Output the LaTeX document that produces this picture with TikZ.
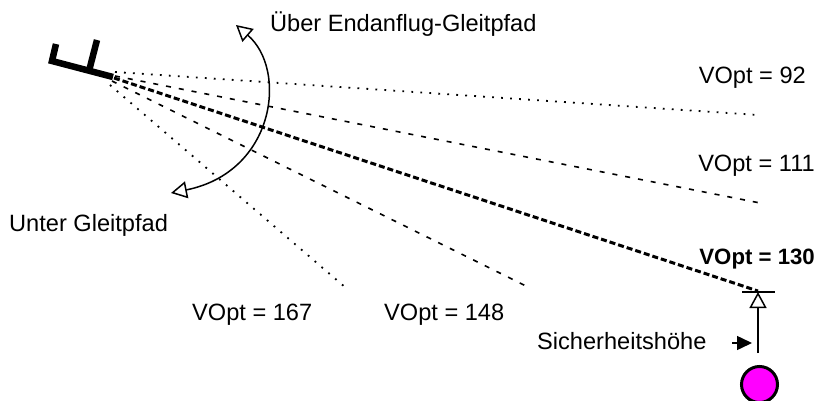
\documentclass[tikz,border=0pt]{standalone}
\usepackage{fontspec}
\setmainfont{Liberation Sans}
\usetikzlibrary{arrows.meta}
\definecolor{pinkdot}{RGB}{255,0,255}
\begin{document}
\begin{tikzpicture}[x=1pt,y=-1pt,
  lbl/.style={anchor=base west,inner sep=0pt,font=\fontsize{23.6}{27}\selectfont},
  lblr/.style={anchor=base east,inner sep=0pt,font=\fontsize{23.6}{27}\selectfont},
  dotline/.style={line width=1.8pt,dash pattern=on 1.8pt off 7.2pt},
  dashline/.style={line width=1.6pt,dash pattern=on 5pt off 8pt},
  thickdash/.style={line width=3pt,dash pattern=on 6pt off 3pt},
  openhead/.style={-{Triangle[open,length=16pt,width=17pt]}},
  openheads/.style={{Triangle[open,length=16pt,width=17pt]}-{Triangle[open,length=16pt,width=17pt]}},
  plane/.style={line width=6.5pt,line cap=butt,line join=miter}
]
\useasboundingbox (0,0) rectangle (820,401);
% symbol
\coordinate (la) at (56,44);
\coordinate (lb) at (52,61);
\coordinate (rb) at (113,77);
\coordinate (ra) at (97,40);
\coordinate (rc) at (89,71);
\draw[plane] (la) -- (lb) -- (rb);
\draw[plane] (ra) -- (rc);
% start points
\coordinate (s1) at (115,72);
\coordinate (s2) at (115,76);
\coordinate (s3) at (114,78);
\coordinate (s4) at (112,81);
\coordinate (s5) at (110,85);
% end points
\coordinate (e1) at (758,115);
\coordinate (e2) at (760,203);
\coordinate (e3) at (758,291);
\coordinate (e4) at (528,287);
\coordinate (e5) at (346,288);
\draw[dotline] (s1) -- (e1);
\draw[dashline] (s2) -- (e2);
\draw[thickdash] (s3) -- (e3);
\draw[dashline] (s4) -- (e4);
\draw[dotline] (s5) -- (e5);
% labels
\node[lblr] (t92) at (806,84) {VOpt = 92};
\node[lblr] (t111) at (815,172) {VOpt = 111};
\node[lblr,font=\fontsize{22.2}{27}\selectfont\bfseries] (t130) at (815,265) {VOpt = 130};
\node[lbl] (t148) at (384,320) {VOpt = 148};
\node[lbl] (t167) at (192,320) {VOpt = 167};
\node[lbl] (tueber) at (270,32) {Über Endanflug-Gleitpfad};
\node[lbl] (tunter) at (9,231) {Unter Gleitpfad};
\node[lbl] (tsich) at (537,349) {Sicherheitshöhe};
% curved arrow
\coordinate (ca) at (171,193);
\coordinate (cb) at (236,25);
\draw[line width=1.5pt,openheads] (ca) .. controls (275,172) and (288,70) .. (cb);
% safety height
\coordinate (tl) at (742,292);
\coordinate (tr) at (775,292);
\draw[line width=1.5pt] (tl) -- (tr);
\coordinate (vb) at (758,353);
\coordinate (vt) at (758,292);
\draw[line width=1.5pt,openhead] (vb) -- (vt);
\coordinate (fa) at (732,343);
\coordinate (fb) at (752,343);
\draw[line width=1.5pt,-{Triangle[length=15pt,width=14pt]}] (fa) -- (fb);
\node[circle,draw=black,line width=3pt,fill=pinkdot,minimum size=36pt,inner sep=0pt] (dot) at (759.5,384.5) {};
\end{tikzpicture}
\end{document}
